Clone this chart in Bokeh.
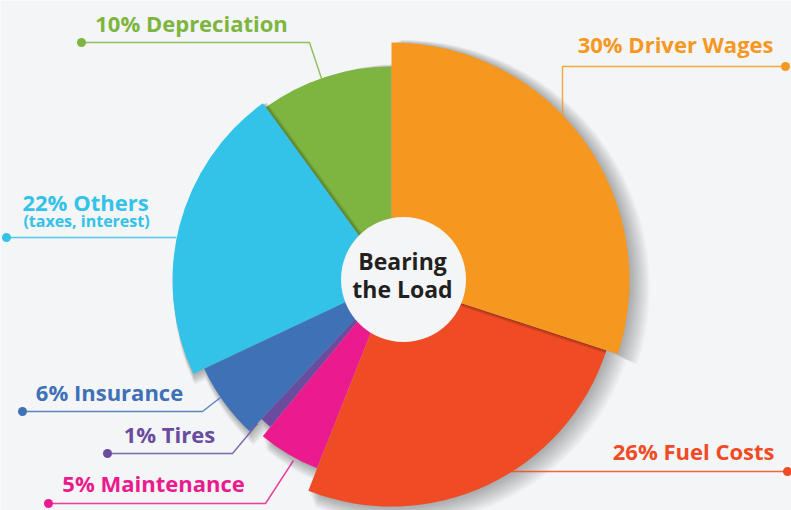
import math
from bokeh.plotting import figure
from bokeh.models import Range1d
from bokeh.core.properties import value
from bokeh.embed import file_html
from bokeh.resources import INLINE

# ---- data ----
categories = ["Driver Wages", "Fuel Costs", "Maintenance", "Tires", "Insurance", "Others", "Depreciation"]
shares = [30, 26, 5, 1, 6, 22, 10]
labels = ["30% Driver Wages", "26% Fuel Costs", "5% Maintenance", "1% Tires", "6% Insurance", "22% Others", "10% Depreciation"]
sublabels = ["", "", "", "", "", "(taxes, interest)", ""]
title_lines = ["Bearing", "the Load"]

# ---- style / layout ----
colors = ["#f6981f", "#ef4b24", "#eb1b8e", "#6a4c9e", "#3f71b7", "#33c2e8", "#7db540"]
radii = [238, 226, 202, 190, 207, 219, 214]
BG = "#f4f5f6"
FONT = "Open Sans"
W, H = 791, 510
CX, CY = 391, H - 280
TXT_SHIFT = 10  # renderer baseline compensation (px)

def Y(py):
    return H - py

def TY(py):
    return H - py + TXT_SHIFT

# label positions (x anchor, baseline y in pixel coords)
label_pos = [
    (773, 53, "right"),
    (774, 460, "right"),
    (153, 492, "center"),
    (169, 443, "center"),
    (109, 401, "center"),
    (85, 211, "center"),
    (191, 32, "center"),
]
sublabel_pos = [None, None, None, None, None, (86, 230), None]
# leader lines (pixel coords): from dot to slice
leaders = [
    [(785, 66), (562, 66), (562, 118)],
    [(787, 471), (505, 471)],
    [(48, 503), (265, 503), (293, 460)],
    [(107, 453), (232, 453), (257, 423)],
    [(22, 411), (202, 411), (220, 397)],
    [(6, 237), (176, 237)],
    [(81, 42), (309, 42), (321, 78)],
]

p = figure(width=W, height=H, x_range=Range1d(0, W), y_range=Range1d(0, H),
           output_backend="svg", toolbar_location=None, min_border=0,
           background_fill_color=BG, border_fill_color=BG, outline_line_color=None)
p.axis.visible = False
p.grid.visible = False

# slice angles: clockwise from 12 o'clock
starts, ends = [], []
cum = 0
for s in shares:
    a_end = 90 - cum * 3.6
    cum += s
    a_start = 90 - cum * 3.6
    starts.append(math.radians(a_start))
    ends.append(math.radians(a_end))

draw_order = [6, 5, 4, 3, 2, 1, 0]
for i in draw_order:
    # soft drop shadow (staggered layers for a blurred edge)
    for k in range(12):
        p.wedge(x=CX + 0.5 + 0.9 * k, y=CY - 0.5 - 0.6 * k, radius=radii[i] + 0.9 * k,
                start_angle=starts[i], end_angle=ends[i],
                fill_color="black", fill_alpha=0.028, line_color=None)
    p.wedge(x=CX, y=CY, radius=radii[i], start_angle=starts[i], end_angle=ends[i],
            fill_color=colors[i], line_color=None)

# leader lines and dots
for i, pts in enumerate(leaders):
    xs = [q[0] for q in pts]
    ys = [Y(q[1]) for q in pts]
    p.line(xs, ys, line_color=colors[i], line_width=1.4, line_alpha=0.85)
    p.scatter([xs[0]], [ys[0]], size=9, fill_color=colors[i], line_color=None)

# labels
for i, lab in enumerate(labels):
    x, by, al = label_pos[i]
    p.text(x=[x], y=[TY(by)], text=[lab], text_font=value(FONT), text_font_style="bold",
           text_font_size="22px", text_color=colors[i], text_align=al, text_baseline="alphabetic")
    if sublabels[i]:
        sx, sy = sublabel_pos[i]
        p.text(x=[sx], y=[TY(sy)], text=[sublabels[i]], text_font=value(FONT), text_font_style="bold",
               text_font_size="16px", text_color=colors[i], text_align="center", text_baseline="alphabetic")

# centre disc and title
p.circle(x=[CX + 12], y=[Y(279)], radius=62.5, fill_color=BG, line_color=None)
for j, t in enumerate(title_lines):
    p.text(x=[CX + 11], y=[TY(270 + 28 * j)], text=[t], text_font=value(FONT), text_font_style="bold",
           text_font_size="23px", text_color="#231f20", text_align="center", text_baseline="alphabetic")

open("out.html", "w").write(file_html(p, INLINE))
